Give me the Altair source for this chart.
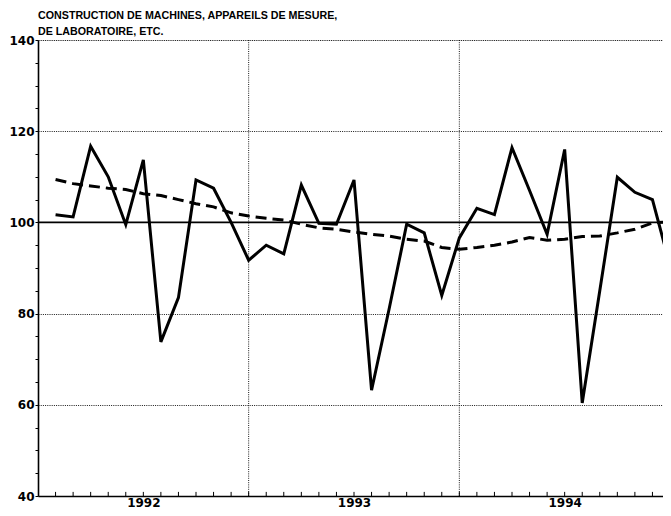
import altair as alt
import pandas as pd

# ---- data ----
years = ["1992", "1993", "1994"]
months = list(range(1, 37))
index_values = [101.7, 101.2, 116.7, 110.0, 99.5, 113.7, 73.8, 83.5, 109.3, 107.5, 100.0, 91.7,
                95.0, 93.1, 108.2, 99.8, 99.6, 109.3, 63.2, 81.0, 99.6, 97.7, 84.0, 96.6,
                103.1, 101.7, 116.4, 107.0, 97.4, 116.0, 60.4, 85.0, 109.9, 106.6, 105.0, 90.6]
trend_values = [109.4, 108.5, 108.0, 107.5, 107.2, 106.3, 105.9, 105.0, 104.1, 103.4, 102.1, 101.4,
                100.9, 100.5, 99.6, 98.8, 98.5, 97.9, 97.4, 97.0, 96.3, 95.9, 94.5, 94.1,
                94.5, 95.0, 95.7, 96.7, 96.1, 96.3, 96.9, 97.0, 97.7, 98.5, 99.9, 100.1]
y_ticks = list(range(40, 141, 5))
year_label_pos = [6, 18, 30]
year_bounds = [12, 24, 36]
month_ticks = list(range(1, 36))
base_level = [100]
title_lines = ["CONSTRUCTION DE MACHINES, APPAREILS DE MESURE,", "DE LABORATOIRE, ETC."]

df = pd.DataFrame({"m": months, "v": index_values, "t": trend_values})

W, H = 632, 456
xs = alt.Scale(domain=[0, 36], nice=False, zero=False)
ys = alt.Scale(domain=[40, 140], nice=False, zero=False)

label_expr = " : ".join(f"datum.value == {p} ? '{y}'" for p, y in zip(year_label_pos, years)) + " : ''"
LF = "DejaVu Sans"

x_axis = alt.Axis(values=year_label_pos, labelExpr=label_expr, ticks=False, grid=False,
                  domainColor="black", domainWidth=1.6, labelFont=LF, labelFontWeight="bold",
                  labelFontSize=12, labelColor="black", labelPadding=1, title=None)
y_axis = alt.Axis(values=y_ticks, labelExpr="datum.value % 20 === 0 ? datum.label : ''",
                  tickSize=3, tickColor="black", tickWidth=1, domainColor="black", domainWidth=1.6,
                  grid=True, gridColor="black", gridDash=[1, 1.2], gridWidth=1,
                  gridOpacity={"condition": {"test": "datum.value % 20 === 0 && datum.value > 40", "value": 0.9}, "value": 0},
                  labelFont=LF, labelFontWeight="bold", labelFontSize=12, labelColor="black",
                  labelPadding=1, title=None)

base = alt.Chart(df)

solid = base.mark_line(color="black", strokeWidth=3, strokeJoin="miter").encode(
    x=alt.X("m:Q", scale=xs, axis=x_axis),
    y=alt.Y("v:Q", scale=ys, axis=y_axis),
)
trend = base.mark_line(color="black", strokeWidth=3, strokeDash=[11, 6]).encode(
    x=alt.X("m:Q", scale=xs, axis=x_axis),
    y=alt.Y("t:Q", scale=ys, axis=y_axis),
)
ref100 = alt.Chart(pd.DataFrame({"y": base_level})).mark_rule(color="black", strokeWidth=1.8).encode(
    y=alt.Y("y:Q", scale=ys, axis=y_axis)
)
ylines = alt.Chart(pd.DataFrame({"x": year_bounds})).mark_rule(color="black", strokeWidth=1, strokeDash=[1, 1.2], opacity=0.9).encode(
    x=alt.X("x:Q", scale=xs, axis=x_axis)
)
mticks = alt.Chart(pd.DataFrame({"x": month_ticks})).mark_rule(color="black", strokeWidth=1).encode(
    x=alt.X("x:Q", scale=xs, axis=x_axis),
    y=alt.Y(datum=40, scale=ys, axis=y_axis),
    y2=alt.Y2(datum=40.9),
)

chart = alt.layer(ylines, mticks, ref100, trend, solid).properties(
    width=W, height=H,
    title=alt.Title(title_lines, anchor="start", frame="group",
                    font="Liberation Sans", fontSize=10.7, fontWeight="bold",
                    lineHeight=16, offset=-4, color="black"),
    autosize=alt.AutoSizeParams(type="none"),
    padding={"left": 30, "top": 32, "right": -7, "bottom": 12},
).configure_view(stroke=None).configure(background="white")

chart.save("out.html", embed_options={"renderer": "svg", "actions": False})
